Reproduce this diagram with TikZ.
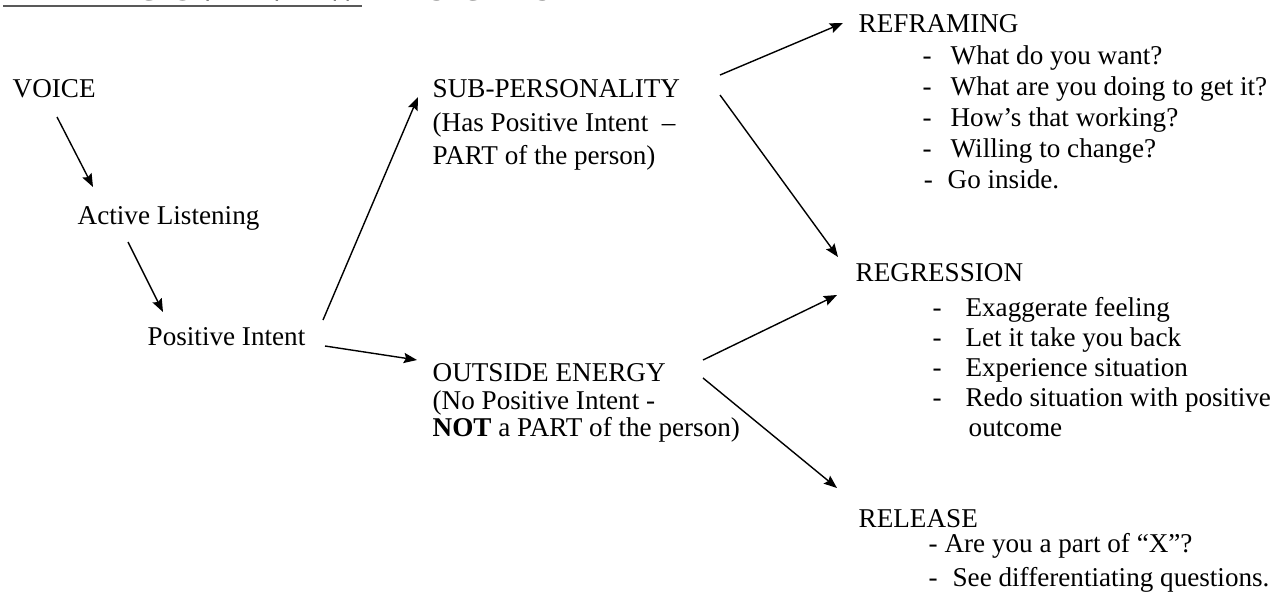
\documentclass[tikz,border=0pt]{standalone}
\usepackage{fontspec}
\setmainfont{Liberation Serif}
\usepackage{tikz}
\usetikzlibrary{arrows.meta, calc}

\newcommand{\ldash}[1]{\makebox[#1][l]{-}}

\begin{document}
\begin{tikzpicture}[x=0.02cm,y=-0.02cm,>={Stealth[length=7.5pt,width=5.8pt,inset=1.2pt]},line width=0.8pt,
    txt/.style={inner sep=0pt,anchor=base west,align=left,font=\fontsize{15.45}{17}\selectfont},
    block/.style={txt,anchor=north west},
    ttl/.style={inner sep=0pt,anchor=base west,font=\fontsize{19}{22}\selectfont\bfseries}]
        % page and clip (the heading is cut at the top)
        \useasboundingbox (0,0) rectangle (1287,595);
        \clip (0,0) rectangle (1287,595);
        \node[ttl](head) at (3,1) {HEALING OVERVIEW};
        \node[ttl](head_b) at (390,1) {INSIGHTS};
        \draw[line width=1.2pt,gray!70!black] ($(head.base west)+(0,5)$) -- ($(head.base west)+(359,5)$);

        % left column
        \node[txt](voice) at (12,97) {VOICE};
        \node[txt](listen) at (77,224) {Active Listening};
        \node[txt](intent) at (147,345) {Positive Intent};

        % middle column
        \node[block,font=\fontsize{15.45}{19}\selectfont](sub) at (432,79)
            {SUB-PERSONALITY\\(Has Positive Intent \ --\\ PART of the person)};
        \node[block,font=\fontsize{15.45}{15.6}\selectfont](outside) at (432,363)
            {OUTSIDE ENERGY\\(No Positive Intent -\\\textbf{NOT} a PART of the person)};

        % right column
        \node[txt](refr) at (858,32) {REFRAMING};
        \node[block,font=\fontsize{15.45}{17.7}\selectfont](refr_l) at (922,45)
            {\ldash{15.9pt}What do you want?\\
             \ldash{15.9pt}What are you doing to get it?\\
             \ldash{15.9pt}How's that working?\\
             \ldash{15.9pt}Willing to change?\\
             \hspace{0.6pt}\ldash{13.6pt}Go inside.};
        \node[txt](regr) at (855,281) {REGRESSION};
        \node[block,font=\fontsize{15.45}{17}\selectfont](regr_l) at (932,297)
            {\ldash{18.7pt}Exaggerate feeling\\
             \ldash{18.7pt}Let it take you back\\
             \ldash{18.7pt}Experience situation\\
             \ldash{18.7pt}Redo situation with positive\\
             \hspace{20.5pt}outcome};
        \node[txt](rel) at (858,527) {RELEASE};
        \node[block,font=\fontsize{15.45}{19.3}\selectfont](rel_l) at (928,533)
            {- Are you a part of ``X''?\\
             \ldash{13.6pt}See differentiating questions.};

        % connectors
        \draw[->] ($(voice.base west)+(45,20)$) -- ($(listen.base west)+(16,-37)$);
        \draw[->] ($(listen.base west)+(51,18)$) -- ($(intent.base west)+(16,-33)$);
        \draw[->] ($(intent.base west)+(176,-25)$) -- ($(sub.north west)+(-14,18)$);
        \draw[->] ($(intent.base west)+(178,1)$) -- ($(outside.north west)+(-15,-3)$);
        \draw[->] ($(sub.north west)+(288,-4)$) -- ($(refr.base west)+(-15,-9)$);
        \draw[->] ($(sub.north west)+(288,16)$) -- ($(regr.base west)+(-17,-24)$);
        \draw[->] ($(outside.north west)+(271,-3)$) -- ($(regr.base west)+(-18,14)$);
        \draw[->] ($(outside.north west)+(271,15)$) -- ($(rel.base west)+(-21,-39)$);

    \end{tikzpicture}
\end{document}
